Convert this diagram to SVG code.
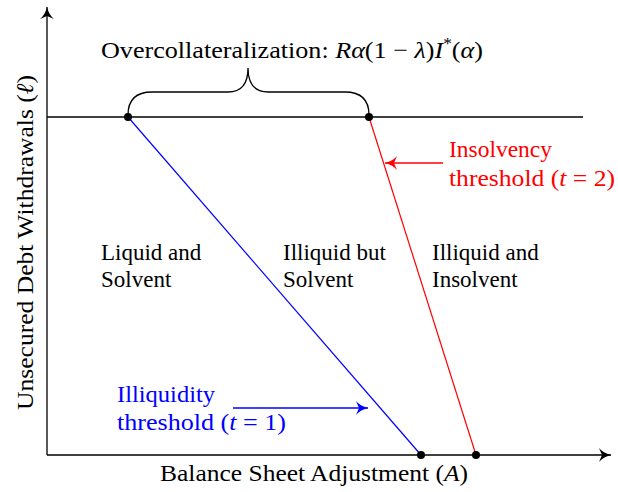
<svg xmlns="http://www.w3.org/2000/svg" width="618" height="492" viewBox="0 0 618 492">
<style>
text{font-family:"Liberation Serif","DejaVu Serif",serif;font-size:24px;fill:#000}
.rg{font-size:23px}
.it{font-style:italic}
.blue{fill:#0000ff}
.red{fill:#ff0000}
.ax{stroke:#000;stroke-width:1.3;fill:none}
</style>
<defs>
<marker id="ak" markerWidth="16" markerHeight="14" refX="12" refY="7" orient="auto" markerUnits="userSpaceOnUse">
<path d="M0,0 Q4,5 12,7 Q4,9 0,14 L3,7 Z" fill="#000"/>
</marker>
<marker id="ab" markerWidth="16" markerHeight="14" refX="12" refY="7" orient="auto" markerUnits="userSpaceOnUse">
<path d="M0,0 Q4,5 12,7 Q4,9 0,14 L3,7 Z" fill="#0000ff"/>
</marker>
<marker id="ar" markerWidth="16" markerHeight="14" refX="12" refY="7" orient="auto" markerUnits="userSpaceOnUse">
<path d="M0,0 Q4,5 12,7 Q4,9 0,14 L3,7 Z" fill="#ff0000"/>
</marker>
</defs>
<g id="connectors">
<line class="ax" x1="47" y1="455" x2="47" y2="7" marker-end="url(#ak)"/>
<line class="ax" x1="47" y1="455" x2="611" y2="455" marker-end="url(#ak)"/>
<line class="ax" x1="47" y1="117" x2="583" y2="117"/>
<line x1="128" y1="117" x2="421" y2="455" stroke="#0000ff" stroke-width="1.2"/>
<line x1="369" y1="117" x2="476" y2="455" stroke="#ff0000" stroke-width="1.2"/>
<path class="ax" d="M128,115 Q128,92 152,92 L228,92 Q248,92 248,68 Q248,92 268,92 L345,92 Q369,92 369,115"/>
<line x1="443" y1="163" x2="385" y2="163" stroke="#ff0000" stroke-width="1.4" marker-end="url(#ar)"/>
<line x1="233" y1="408" x2="368" y2="408" stroke="#0000ff" stroke-width="1.4" marker-end="url(#ab)"/>
</g>
<g id="points">
<circle cx="128" cy="117" r="4"/>
<circle cx="369" cy="117" r="4"/>
<circle cx="421" cy="455" r="4"/>
<circle cx="476" cy="455" r="4"/>
</g>
<g id="title"><text x="101" y="58" textLength="382" lengthAdjust="spacingAndGlyphs">Overcollateralization:  <tspan class="it">R</tspan><tspan class="it">α</tspan>(1 − <tspan class="it">λ</tspan>)<tspan class="it">I</tspan><tspan dy="-9" font-size="16">*</tspan><tspan dy="9">(</tspan><tspan class="it">α</tspan>)</text></g>
<g id="insolvency"><text class="red" x="449" y="157" textLength="103" lengthAdjust="spacingAndGlyphs">Insolvency</text><text class="red" x="449" y="186" textLength="166" lengthAdjust="spacingAndGlyphs">threshold (<tspan class="it">t</tspan> = 2)</text></g>
<g id="illiquidity"><text class="blue" x="117" y="402" textLength="98" lengthAdjust="spacingAndGlyphs">Illiquidity</text><text class="blue" x="117" y="430" textLength="169" lengthAdjust="spacingAndGlyphs">threshold (<tspan class="it">t</tspan> = 1)</text></g>
<g id="region1"><text class="rg" x="101" y="260">Liquid and</text><text class="rg" x="101" y="287">Solvent</text></g>
<g id="region2"><text class="rg" x="283" y="260">Illiquid but</text><text class="rg" x="283" y="287">Solvent</text></g>
<g id="region3"><text class="rg" x="432" y="260">Illiquid and</text><text class="rg" x="432" y="287">Insolvent</text></g>
<g id="xlabel"><text x="160" y="481" textLength="308" lengthAdjust="spacingAndGlyphs">Balance Sheet Adjustment (<tspan class="it">A</tspan>)</text></g>
<g id="ylabel"><text transform="translate(33,410) rotate(-90)" textLength="335" lengthAdjust="spacingAndGlyphs">Unsecured Debt Withdrawals (<tspan class="it">ℓ</tspan>)</text></g>
</svg>
